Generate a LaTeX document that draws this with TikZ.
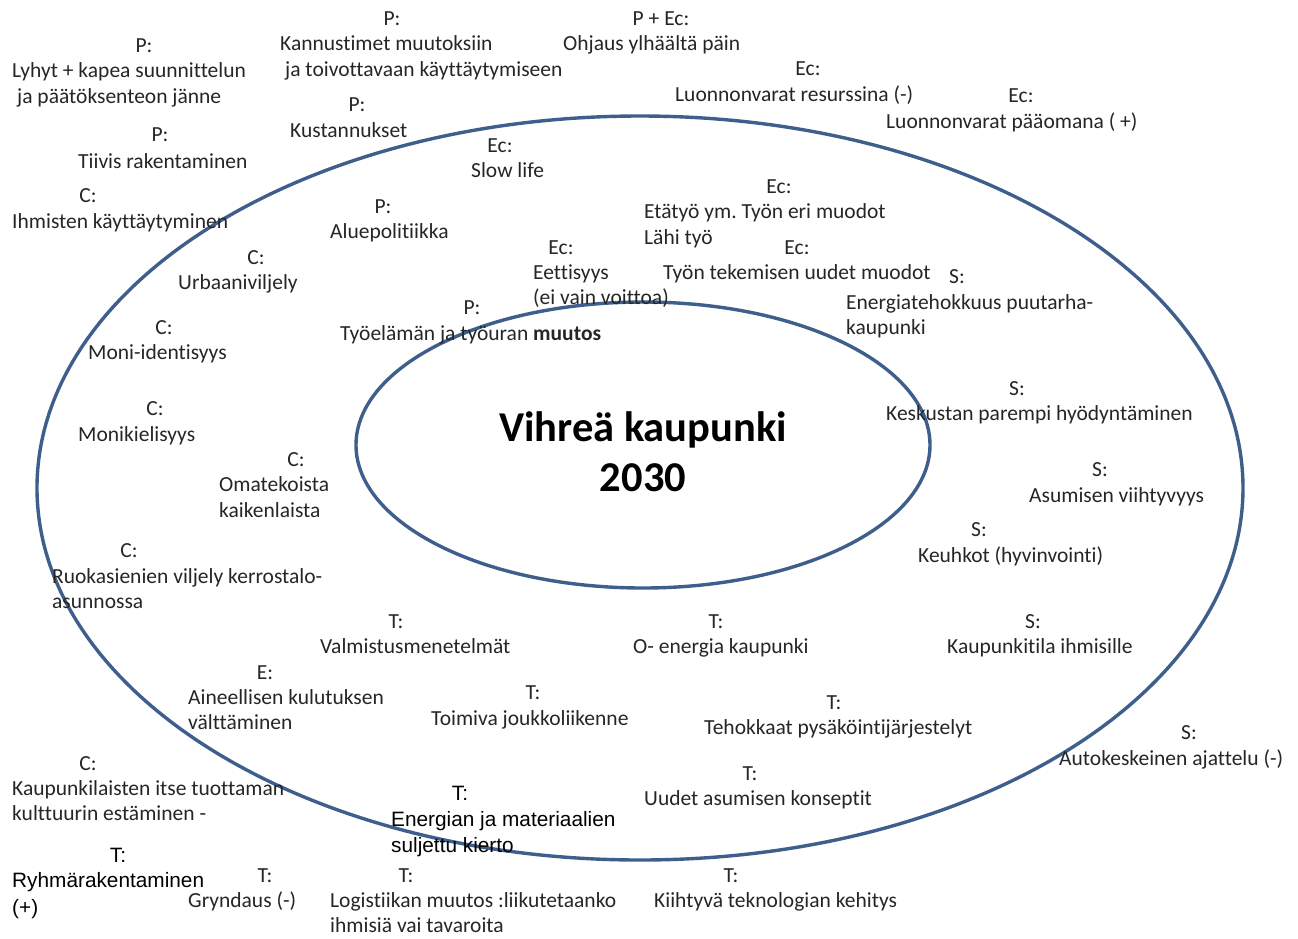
\documentclass[tikz,border=0pt]{standalone}
\usepackage{fontspec}
\setmainfont{Carlito}[Ligatures=NoCommon]
\newfontfamily\arialf{Liberation Sans}
\usetikzlibrary{shapes.geometric}
\definecolor{ring}{HTML}{3E5E8C}
\definecolor{ink}{HTML}{262626}
\frenchspacing
\tikzset{
  txt/.style={inner sep=0pt, text=ink, font=\fontsize{21.5}{25}\selectfont},
  artxt/.style={inner sep=0pt, text=black, font=\arialf\fontsize{20.8}{25}\selectfont},
  ringline/.style={draw=ring, line width=3.4pt}
}
\newcommand\mylab[4]{\node[txt,anchor=base] (#1) at (#2,#3+7) {#4};}
\newcommand\mytx[4]{\node[txt,anchor=base west] (#1) at (#2,#3+7) {#4};}
\newcommand\arlab[4]{\node[artxt,anchor=base] (#1) at (#2,#3+7) {#4};}
\newcommand\artx[4]{\node[artxt,anchor=base west] (#1) at (#2,#3+7) {#4};}
\begin{document}
\begin{tikzpicture}[x=1pt,y=-1pt]
\useasboundingbox (0,0) rectangle (1298,938);
\fill[white] (0,0) rectangle (1298,938);
% rings
\draw[ringline] (640,488) ellipse [x radius=603pt, y radius=372pt];
\node[ringline, ellipse, minimum width=574pt, minimum height=286pt, inner sep=0pt] (core) at (643,445) {};
\node[inner sep=0pt, text=black, align=center, font=\fontsize{42.5}{50}\selectfont\bfseries] (title) at (643,452) {Vihreä kaupunki\\2030};
% top-left
\mylab{p1}{144}{45}{P:}
\mytx{p1a}{12}{70}{Lyhyt + kapea suunnittelun}
\mytx{p1b}{17}{96}{ja päätöksenteon jänne}
\mylab{p2}{160}{134}{P:}
\mytx{p2a}{78}{161}{Tiivis rakentaminen}
\mylab{c1}{88}{195}{C:}
\mytx{c1a}{12}{221}{Ihmisten käyttäytyminen}
\mylab{p3}{392}{18}{P:}
\mytx{p3a}{280}{43}{Kannustimet muutoksiin}
\mytx{p3b}{285}{69}{ja toivottavaan käyttäytymiseen}
\mylab{p4}{357}{104}{P:}
\mytx{p4a}{290}{130}{Kustannukset}
\mylab{pe}{661}{18}{P + Ec:}
\mytx{pea}{563}{43}{Ohjaus ylhäältä päin}
\mylab{e1}{808}{68}{Ec:}
\mytx{e1a}{675}{94}{Luonnonvarat resurssina (-)}
\mylab{e2}{1021}{95}{Ec:}
\mytx{e2a}{886}{121}{Luonnonvarat pääomana ( +)}
\mylab{e3}{500}{145}{Ec:}
\mytx{e3a}{471}{170}{Slow life}
\mylab{p5}{383}{206}{P:}
\mytx{p5a}{330}{231}{Aluepolitiikka}
\mylab{e4}{779}{186}{Ec:}
\mytx{e4a}{644}{211}{Etätyö ym. Työn eri muodot}
\mytx{e4b}{644}{237}{Lähi työ}
\mylab{e5}{561}{247}{Ec:}
\mytx{e5a}{533}{272}{Eettisyys}
\mytx{e5b}{533}{297}{(ei vain voittoa)}
\mylab{e6}{797}{247}{Ec:}
\mytx{e6a}{663}{272}{Työn tekemisen uudet muodot}
\mylab{s1}{957}{276}{S:}
\mytx{s1a}{846}{302}{Energiatehokkuus puutarha-}
\mytx{s1b}{846}{327}{kaupunki}
\mylab{p6}{472}{307}{P:}
\mytx{p6a}{340}{333}{Työelämän ja työuran \textbf{muutos}}
% left
\mylab{c2}{256}{257}{C:}
\mytx{c2a}{178}{282}{Urbaaniviljely}
\mylab{c3}{164}{327}{C:}
\mytx{c3a}{88}{352}{Moni-identisyys}
\mylab{c4}{155}{408}{C:}
\mytx{c4a}{78}{434}{Monikielisyys}
\mylab{c5}{296}{459}{C:}
\mytx{c5a}{219}{484}{Omatekoista}
\mytx{c5b}{219}{510}{kaikenlaista}
\mylab{c6}{129}{550}{C:}
\mytx{c6a}{52}{576}{Ruokasienien viljely kerrostalo-}
\mytx{c6b}{52}{601}{asunnossa}
% right
\mylab{s2}{1017}{388}{S:}
\mytx{s2a}{886}{413}{Keskustan parempi hyödyntäminen}
\mylab{s3}{1100}{469}{S:}
\mytx{s3a}{1029}{495}{Asumisen viihtyvyys}
\mylab{s4}{979}{529}{S:}
\mytx{s4a}{918}{555}{Keuhkot (hyvinvointi)}
\mylab{s5}{1033}{621}{S:}
\mytx{s5a}{947}{646}{Kaupunkitila ihmisille}
\mylab{s6}{1189}{732}{S:}
\mytx{s6a}{1059}{758}{Autokeskeinen ajattelu (-)}
% bottom
\mylab{t1}{396}{621}{T:}
\mytx{t1a}{320}{646}{Valmistusmenetelmät}
\mylab{t2}{716}{621}{T:}
\mytx{t2a}{633}{646}{O- energia kaupunki}
\mylab{e7}{265}{672}{E:}
\mytx{e7a}{188}{697}{Aineellisen kulutuksen}
\mytx{e7b}{188}{722}{välttäminen}
\mylab{t3}{533}{692}{T:}
\mytx{t3a}{431}{718}{Toimiva joukkoliikenne}
\mylab{t4}{834}{702}{T:}
\mytx{t4a}{704}{727}{Tehokkaat pysäköintijärjestelyt}
\mylab{c7}{88}{763}{C:}
\mytx{c7a}{12}{788}{Kaupunkilaisten itse tuottaman}
\mytx{c7b}{12}{813}{kulttuurin estäminen -}
\mylab{t5}{750}{773}{T:}
\mytx{t5a}{644}{798}{Uudet asumisen konseptit}
\arlab{t6}{460}{793}{T:}
\artx{t6a}{391}{819}{Energian ja materiaalien}
\artx{t6b}{391}{845}{suljettu kierto}
\arlab{t7}{118}{855}{T:}
\artx{t7a}{12}{880}{Ryhmärakentaminen}
\artx{t7b}{12}{907}{(+)}
\mylab{t8}{265}{875}{T:}
\mytx{t8a}{188}{900}{Gryndaus (-)}
\mylab{t9}{406}{875}{T:}
\mytx{t9a}{330}{900}{Logistiikan muutos :liikutetaanko}
\mytx{t9b}{330}{925}{ihmisiä vai tavaroita}
\mylab{t10}{731}{875}{T:}
\mytx{t10a}{654}{900}{Kiihtyvä teknologian kehitys}
\end{tikzpicture}
\end{document}
